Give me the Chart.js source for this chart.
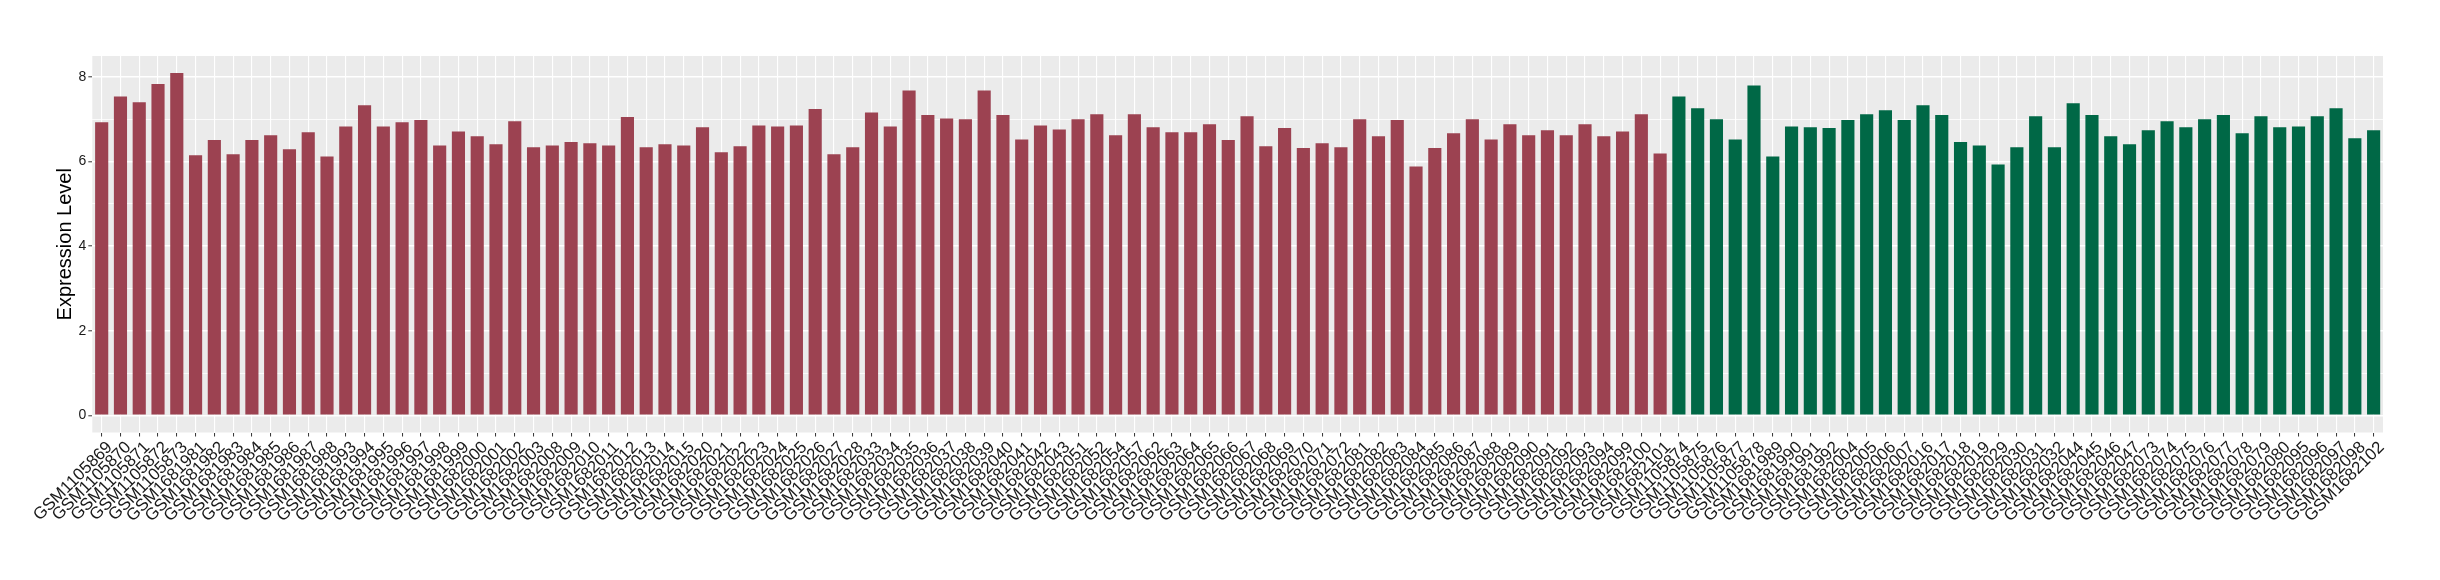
<!DOCTYPE html>
<html>
<head>
<meta charset="utf-8">
<script src="https://cdn.jsdelivr.net/npm/chart.js@4.4.1/dist/chart.umd.min.js"></script>
<style>
  html, body { margin: 0; padding: 0; background: #ffffff; }
  #wrap { width: 2440px; height: 580px; }
</style>
</head>
<body>
<div id="wrap"><canvas id="c" width="2440" height="580"></canvas></div>
<script>
const categories = [
  "GSM1105869","GSM1105870","GSM1105871","GSM1105872","GSM1105873","GSM1681981","GSM1681982","GSM1681983",
  "GSM1681984","GSM1681985","GSM1681986","GSM1681987","GSM1681988","GSM1681993","GSM1681994","GSM1681995",
  "GSM1681996","GSM1681997","GSM1681998","GSM1681999","GSM1682000","GSM1682001","GSM1682002","GSM1682003",
  "GSM1682008","GSM1682009","GSM1682010","GSM1682011","GSM1682012","GSM1682013","GSM1682014","GSM1682015",
  "GSM1682020","GSM1682021","GSM1682022","GSM1682023","GSM1682024","GSM1682025","GSM1682026","GSM1682027",
  "GSM1682028","GSM1682033","GSM1682034","GSM1682035","GSM1682036","GSM1682037","GSM1682038","GSM1682039",
  "GSM1682040","GSM1682041","GSM1682042","GSM1682043","GSM1682051","GSM1682052","GSM1682054","GSM1682057",
  "GSM1682062","GSM1682063","GSM1682064","GSM1682065","GSM1682066","GSM1682067","GSM1682068","GSM1682069",
  "GSM1682070","GSM1682071","GSM1682072","GSM1682081","GSM1682082","GSM1682083","GSM1682084","GSM1682085",
  "GSM1682086","GSM1682087","GSM1682088","GSM1682089","GSM1682090","GSM1682091","GSM1682092","GSM1682093",
  "GSM1682094","GSM1682099","GSM1682100","GSM1682101",
  "GSM1105874","GSM1105875","GSM1105876","GSM1105877","GSM1105878","GSM1681989","GSM1681990","GSM1681991",
  "GSM1681992","GSM1682004","GSM1682005","GSM1682006","GSM1682007","GSM1682016","GSM1682017","GSM1682018",
  "GSM1682019","GSM1682029","GSM1682030","GSM1682031","GSM1682032","GSM1682044","GSM1682045","GSM1682046",
  "GSM1682047","GSM1682073","GSM1682074","GSM1682075","GSM1682076","GSM1682077","GSM1682078","GSM1682079",
  "GSM1682080","GSM1682095","GSM1682096","GSM1682097","GSM1682098","GSM1682102"
];

const expression = [
  6.93, 7.54, 7.40, 7.83, 8.09, 6.15, 6.51, 6.17, 6.51, 6.62, 6.29, 6.69, 6.12, 6.83, 7.33, 6.83, 6.93,
  6.98, 6.38, 6.71, 6.60, 6.41, 6.95, 6.34, 6.38, 6.46, 6.43, 6.38, 7.05, 6.34, 6.41, 6.38, 6.81, 6.22, 6.36, 6.85, 6.83, 6.85, 7.24,
  6.17, 6.34, 7.16, 6.83, 7.68, 7.10, 7.02, 7.00, 7.68, 7.10, 6.52, 6.85, 6.76, 7.00, 7.12, 6.62, 7.12, 6.81, 6.69, 6.69, 6.88,
  6.51, 7.07, 6.36, 6.79, 6.32, 6.43, 6.34, 7.00, 6.60, 6.98, 5.88, 6.32, 6.67, 7.00, 6.52, 6.88, 6.62, 6.74, 6.62, 6.88, 6.60, 6.71, 7.12, 6.19,
  7.54, 7.26, 7.00, 6.52, 7.80, 6.12, 6.83, 6.81, 6.79, 6.98, 7.12, 7.21, 6.98, 7.33, 7.10, 6.46, 6.38, 5.93, 6.34,
  7.07, 6.34, 7.38, 7.10, 6.60, 6.41, 6.74, 6.95, 6.81, 7.00, 7.10, 6.67, 7.07, 6.81, 6.83, 7.07, 7.26, 6.55, 6.74
];

// group of each sample: first 84 in group A, remaining 38 in group B
const groupSizes = [84, 38];
const groupNames = ["A", "B"];
const yTickValues = [0, 1, 2, 3, 4, 5, 6, 7, 8];
const yLabelValues = [0, 2, 4, 6, 8];

const groupColors = { A: "#9C4251", B: "#006846" };
const groups = [];
groupSizes.forEach((n, gi) => { for (let i = 0; i < n; i++) groups.push(groupNames[gi]); });

const panelBg = {
  id: "panelBg",
  beforeDraw(chart) {
    const a = chart.chartArea, ctx = chart.ctx;
    ctx.save();
    ctx.fillStyle = "#EBEBEB";
    ctx.fillRect(a.left, a.top, a.right - a.left, a.bottom - a.top);
    ctx.restore();
  }
};

const yMax = Math.max(...expression);
const pad = 0.05 * yMax;

new Chart(document.getElementById("c"), {
  type: "bar",
  data: {
    labels: categories,
    datasets: [{
      label: "Expression Level",
      data: expression,
      backgroundColor: groups.map(g => groupColors[g]),
      borderWidth: 0,
      barPercentage: 0.7,
      categoryPercentage: 1.0
    }]
  },
  options: {
    responsive: false,
    animation: false,
    devicePixelRatio: 1,
    layout: { padding: { left: 0, right: 57, top: 56, bottom: 0 } },
    plugins: { legend: { display: false }, tooltip: { enabled: false } },
    scales: {
      x: {
        type: "category",
        offset: true,
        border: { display: false },
        grid: {
          offset: false,
          color: "#FFFFFF",
          lineWidth: 1.1,
          drawTicks: true,
          tickLength: 4,
          tickColor: "#333333",
          tickWidth: 1
        },
        ticks: {
          autoSkip: false,
          minRotation: 45,
          maxRotation: 45,
          padding: 1,
          labelOffset: 8,
          color: "#1a1a1a",
          font: { family: "'Liberation Sans', Arial, sans-serif", size: 17 }
        },
        afterFit(scale) { scale.height = 147.5; }
      },
      y: {
        min: -pad,
        max: yMax + pad,
        border: { display: false },
        afterBuildTicks(scale) { scale.ticks = yTickValues.map(v => ({ value: v })); },
        grid: {
          color: "#FFFFFF",
          lineWidth: ctx => (yLabelValues.includes(ctx.tick && ctx.tick.value) ? 1.6 : 0.8),
          drawTicks: true,
          tickLength: 4,
          tickWidth: 1,
          tickColor: ctx => (yLabelValues.includes(ctx.tick && ctx.tick.value) ? "#333333" : "rgba(0,0,0,0)")
        },
        ticks: {
          padding: 2,
          color: "#1a1a1a",
          font: { family: "'Liberation Sans', Arial, sans-serif", size: 14 },
          callback: v => (yLabelValues.includes(v) ? String(v) : "")
        },
        title: {
          display: true,
          text: "Expression Level",
          color: "#000000",
          font: { family: "'Liberation Sans', Arial, sans-serif", size: 20 },
          padding: { top: 53.6, bottom: 0 }
        },
        afterFit(scale) { scale.width = 92.3; }
      }
    }
  },
  plugins: [panelBg]
});
</script>
</body>
</html>
